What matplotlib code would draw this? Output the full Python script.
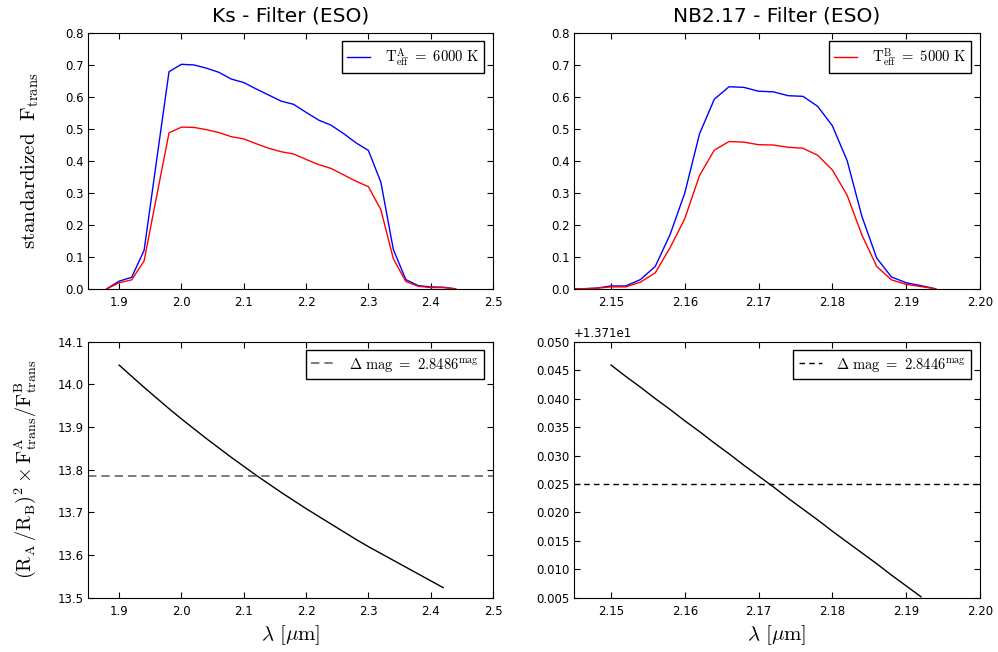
import matplotlib
matplotlib.use("Agg")
from matplotlib import pyplot as plt
import numpy as np

plt.rcParams['mathtext.fontset'] = 'cm'
plt.rcParams['font.family'] = 'DejaVu Sans'
plt.rcParams['xtick.direction'] = 'in'
plt.rcParams['ytick.direction'] = 'in'
plt.rcParams['xtick.top'] = True
plt.rcParams['ytick.right'] = True
plt.rcParams['xtick.major.size'] = 4
plt.rcParams['ytick.major.size'] = 4
plt.rcParams['xtick.labelsize'] = 8.5
plt.rcParams['ytick.labelsize'] = 8.5
plt.rcParams['xtick.major.pad'] = 5
plt.rcParams['ytick.major.pad'] = 3

# ============== DATA ==============

# Ks filter, transmitted flux (standardized)
ks_wave = [1.88, 1.90, 1.92, 1.94, 1.96, 1.98, 2.00, 2.02, 2.04, 2.06,
           2.08, 2.10, 2.12, 2.14, 2.16, 2.18, 2.20, 2.22, 2.24, 2.26,
           2.28, 2.30, 2.32, 2.34, 2.36, 2.38, 2.40, 2.42, 2.44]
ks_star_a = [0.000, 0.024, 0.036, 0.120, 0.400, 0.678, 0.701, 0.699, 0.689, 0.676,
             0.655, 0.644, 0.624, 0.605, 0.586, 0.576, 0.551, 0.527, 0.511, 0.485,
             0.456, 0.432, 0.333, 0.123, 0.029, 0.010, 0.006, 0.005, 0.000]
ks_star_b = [0.000, 0.019, 0.028, 0.087, 0.288, 0.487, 0.505, 0.504, 0.497, 0.488,
             0.475, 0.468, 0.453, 0.439, 0.428, 0.421, 0.404, 0.388, 0.376, 0.356,
             0.336, 0.319, 0.247, 0.094, 0.023, 0.008, 0.004, 0.004, 0.000]

# NB2.17 filter
nb_wave = [2.144, 2.146, 2.148, 2.150, 2.152, 2.154, 2.156, 2.158, 2.160, 2.162,
           2.164, 2.166, 2.168, 2.170, 2.172, 2.174, 2.176, 2.178, 2.180, 2.182,
           2.184, 2.186, 2.188, 2.190, 2.192, 2.194]
nb_star_a = [0.000, 0.000, 0.002, 0.009, 0.009, 0.029, 0.070, 0.169, 0.299, 0.484,
             0.592, 0.631, 0.629, 0.617, 0.615, 0.603, 0.601, 0.570, 0.509, 0.400,
             0.226, 0.096, 0.037, 0.019, 0.010, 0.000]
nb_star_b = [0.000, 0.000, 0.002, 0.006, 0.006, 0.021, 0.050, 0.128, 0.219, 0.354,
             0.433, 0.460, 0.458, 0.450, 0.449, 0.442, 0.439, 0.417, 0.371, 0.292,
             0.168, 0.070, 0.028, 0.014, 0.007, 0.000]

# (R_A/R_B)^2 * F_A/F_B
ks_ratio_wave = [1.90, 1.92, 1.94, 1.96, 1.98, 2.00, 2.02, 2.04, 2.06, 2.08,
                 2.10, 2.12, 2.14, 2.16, 2.18, 2.20, 2.22, 2.24, 2.26, 2.28,
                 2.30, 2.32, 2.34, 2.36, 2.38, 2.40, 2.42]
ks_ratio = [14.045, 14.019, 13.993, 13.968, 13.943, 13.919, 13.896, 13.873, 13.851, 13.829,
            13.808, 13.787, 13.767, 13.747, 13.728, 13.709, 13.691, 13.673, 13.655, 13.637,
            13.620, 13.604, 13.588, 13.572, 13.556, 13.540, 13.524]
ks_level = 13.786
ks_dmag = '2.8486'

nb_ratio_wave = [2.150, 2.152, 2.154, 2.156, 2.158, 2.160, 2.162, 2.164, 2.166, 2.168,
                 2.170, 2.172, 2.174, 2.176, 2.178, 2.180, 2.182, 2.184, 2.186, 2.188,
                 2.190, 2.192]
nb_ratio = [13.7559, 13.7539, 13.7520, 13.7500, 13.7481, 13.7461, 13.7442, 13.7422,
            13.7403, 13.7383, 13.7364, 13.7345, 13.7325, 13.7306, 13.7287, 13.7267,
            13.7248, 13.7229, 13.7210, 13.7190, 13.7171, 13.7152]
nb_level = 13.735
nb_dmag = '2.8446'

# ============== FIGURE ==============

fig = plt.figure(figsize=(9.98, 6.52), dpi=100, facecolor='white')
ax1 = fig.add_axes([0.0882, 0.557, 0.4058, 0.393])
ax2 = fig.add_axes([0.5752, 0.557, 0.4068, 0.393])
ax3 = fig.add_axes([0.0882, 0.083, 0.4058, 0.393])
ax4 = fig.add_axes([0.5752, 0.083, 0.4068, 0.393])

leg_kw = dict(loc='upper right', fontsize=10.5, fancybox=False, framealpha=1,
              edgecolor='black', handlelength=1.6, borderpad=0.35,
              handletextpad=1.0, borderaxespad=0.6)

# top left
ax1.plot(ks_wave, ks_star_a, color='blue', lw=1,
         label=r'$\mathrm{T_{eff}^{A}\ =\ 6000\ K}$')
ax1.plot(ks_wave, ks_star_b, color='red', lw=1)
ax1.set_xlim(1.85, 2.5)
ax1.set_ylim(0, 0.8)
ax1.set_xticks(np.arange(1.9, 2.51, 0.1))
ax1.set_yticks(np.arange(0, 0.81, 0.1))
ax1.set_title('Ks - Filter (ESO)', fontsize=14.5, pad=8)
ax1.set_ylabel(r'$\mathrm{standardized\ \ F_{trans}}$', fontsize=15)
ax1.yaxis.set_label_coords(-0.115, 0.5)
ax1.legend(**leg_kw)

# top right
ax2.plot(nb_wave, nb_star_a, color='blue', lw=1)
ax2.plot(nb_wave, nb_star_b, color='red', lw=1,
         label=r'$\mathrm{T_{eff}^{B}\ =\ 5000\ K}$')
ax2.set_xlim(2.145, 2.2)
ax2.set_ylim(0, 0.8)
ax2.set_xticks(np.arange(2.15, 2.201, 0.01))
ax2.set_yticks(np.arange(0, 0.81, 0.1))
ax2.set_title('NB2.17 - Filter (ESO)', fontsize=14.5, pad=8)
ax2.legend(**leg_kw)

# bottom left
ax3.plot(ks_ratio_wave, ks_ratio, color='black', lw=1)
ax3.axhline(ks_level, color='0.4', lw=1.2, dashes=(5, 3),
            label=r'$\Delta\ \mathrm{mag}\ =\ ' + ks_dmag + r'^{\mathrm{mag}}$')
ax3.set_xlim(1.85, 2.5)
ax3.set_ylim(13.5, 14.1)
ax3.set_xticks(np.arange(1.9, 2.51, 0.1))
ax3.set_yticks(np.arange(13.5, 14.11, 0.1))
ax3.ticklabel_format(axis='y', useOffset=False)
ax3.set_xlabel(r'$\lambda\ [\mu \mathrm{m}]$', fontsize=15)
ax3.set_ylabel(r'$\mathrm{(R_A\,/R_B)^2 \times F^A_{trans}/F^B_{trans}}$', fontsize=14.5)
ax3.yaxis.set_label_coords(-0.12, 0.5)
ax3.legend(**leg_kw)

# bottom right
ax4.plot(nb_ratio_wave, nb_ratio, color='black', lw=1)
ax4.axhline(nb_level, color='black', lw=1, dashes=(4, 3),
            label=r'$\Delta\ \mathrm{mag}\ =\ ' + nb_dmag + r'^{\mathrm{mag}}$')
ax4.set_xlim(2.145, 2.2)
ax4.set_ylim(13.715, 13.76)
ax4.set_xticks(np.arange(2.15, 2.201, 0.01))
ax4.set_yticks(np.arange(13.715, 13.7601, 0.005))
ax4.ticklabel_format(axis='y', useOffset=13.71)
ax4.set_xlabel(r'$\lambda\ [\mu \mathrm{m}]$', fontsize=15)
ax4.legend(**leg_kw)

for ax in (ax1, ax2, ax3, ax4):
    ax.tick_params(which='both', direction='in', top=True, right=True)

fig.savefig('out.png', dpi=100, facecolor='white')
